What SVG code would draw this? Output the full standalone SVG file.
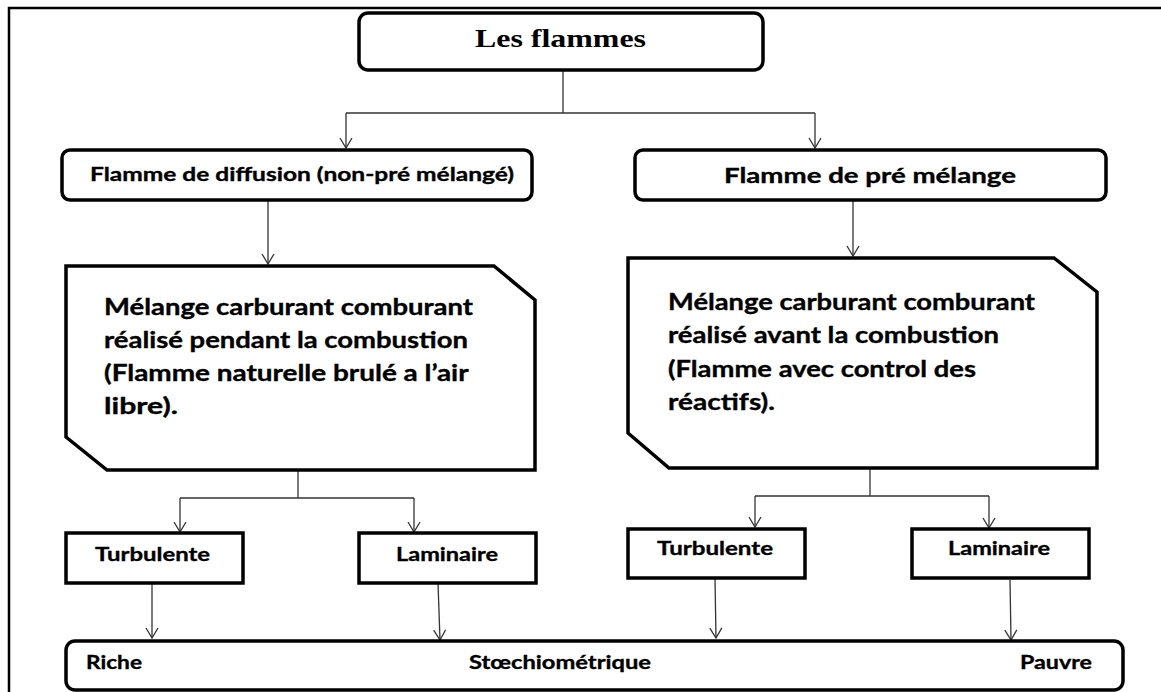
<svg xmlns="http://www.w3.org/2000/svg" width="1161" height="692" viewBox="0 0 1161 692">
<style>
.box{fill:#fff;stroke:#000;stroke-width:3.5;stroke-linejoin:miter}
.rbox{fill:#fff;stroke:#000;stroke-width:3.5}
.frame{fill:none;stroke:#000;stroke-width:2.5}
.con{fill:none;stroke:#333;stroke-width:1.3}
.t{font-family:Lato,"Open Sans","Liberation Sans",sans-serif;font-weight:bold;fill:#000;stroke:#000;stroke-width:0.35}
.title{font-family:"Liberation Serif","Times New Roman",serif;font-weight:bold;fill:#000}
</style>
<defs>
<marker id="arr" viewBox="-11 -7 12 14" refX="0" refY="0" markerWidth="12" markerHeight="14" markerUnits="userSpaceOnUse" orient="auto">
<path d="M-10,-6 L0,0 L-10,6" fill="none" stroke="#333" stroke-width="1.3"/>
</marker>
</defs>
<rect width="1161" height="692" fill="#fff"/>
<rect class="frame" x="9" y="8" width="1170" height="700"/>

<g id="connectors">
<polyline class="con" points="563,70 563,113"/>
<polyline class="con" points="346,113 815,113"/>
<line class="con" x1="346" y1="113" x2="346" y2="148" marker-end="url(#arr)"/>
<line class="con" x1="815" y1="113" x2="815" y2="148" marker-end="url(#arr)"/>
<line class="con" x1="268" y1="200" x2="268" y2="264" marker-end="url(#arr)"/>
<line class="con" x1="853" y1="200" x2="853" y2="256" marker-end="url(#arr)"/>
<polyline class="con" points="298,470 298,498"/>
<polyline class="con" points="180,498 414,498"/>
<line class="con" x1="180" y1="498" x2="180" y2="532" marker-end="url(#arr)"/>
<line class="con" x1="414" y1="498" x2="414" y2="532" marker-end="url(#arr)"/>
<polyline class="con" points="870,468 870,496"/>
<polyline class="con" points="755,496 989,496"/>
<line class="con" x1="755" y1="496" x2="755" y2="527" marker-end="url(#arr)"/>
<line class="con" x1="989" y1="496" x2="989" y2="528" marker-end="url(#arr)"/>
<line class="con" x1="152" y1="583" x2="152" y2="638" marker-end="url(#arr)"/>
<line class="con" x1="438" y1="583" x2="440" y2="640" marker-end="url(#arr)"/>
<line class="con" x1="715" y1="578" x2="716" y2="638" marker-end="url(#arr)"/>
<line class="con" x1="1010" y1="580" x2="1011" y2="640" marker-end="url(#arr)"/>
</g>

<g id="n-flammes">
<rect class="rbox" x="359" y="13" width="404" height="57" rx="9"/>
<text class="title" x="475" y="47" font-size="25" textLength="171" lengthAdjust="spacingAndGlyphs">Les flammes</text>
</g>

<g id="n-diffusion">
<rect class="rbox" x="62" y="150" width="470" height="50" rx="8"/>
<text class="t" x="90" y="181" font-size="19" textLength="424" lengthAdjust="spacingAndGlyphs">Flamme de diffusion (non-pré mélangé)</text>
</g>

<g id="n-premelange">
<rect class="rbox" x="635" y="150" width="471" height="50" rx="8"/>
<text class="t" x="724" y="183" font-size="21" textLength="292" lengthAdjust="spacingAndGlyphs">Flamme de pré mélange</text>
</g>

<g id="n-desc-diffusion">
<polygon class="box" points="66,266 494,266 535,300 535,470 107,470 66,437"/>
<text class="t" font-size="22">
<tspan x="104" y="315" textLength="369" lengthAdjust="spacingAndGlyphs">Mélange carburant comburant</tspan>
<tspan x="104" y="348" textLength="364" lengthAdjust="spacingAndGlyphs">réalisé pendant la combustion</tspan>
<tspan x="104" y="381" textLength="364" lengthAdjust="spacingAndGlyphs">(Flamme naturelle brulé a l’air</tspan>
<tspan x="104" y="414" textLength="74" lengthAdjust="spacingAndGlyphs">libre).</tspan>
</text>
</g>

<g id="n-desc-premelange">
<polygon class="box" points="628,258 1054,258 1097,292 1097,468 669,468 628,433"/>
<text class="t" font-size="22">
<tspan x="668" y="310" textLength="367" lengthAdjust="spacingAndGlyphs">Mélange carburant comburant</tspan>
<tspan x="668" y="343" textLength="331" lengthAdjust="spacingAndGlyphs">réalisé avant la combustion</tspan>
<tspan x="668" y="377" textLength="308" lengthAdjust="spacingAndGlyphs">(Flamme avec control des</tspan>
<tspan x="668" y="410" textLength="107" lengthAdjust="spacingAndGlyphs">réactifs).</tspan>
</text>
</g>

<g id="n-turb-1">
<rect class="box" x="66" y="533" width="177" height="50"/>
<text class="t" x="95" y="561" font-size="19" textLength="115" lengthAdjust="spacingAndGlyphs">Turbulente</text>
</g>
<g id="n-lam-1">
<rect class="box" x="359" y="533" width="177" height="50"/>
<text class="t" x="396" y="561" font-size="19" textLength="102" lengthAdjust="spacingAndGlyphs">Laminaire</text>
</g>
<g id="n-turb-2">
<rect class="box" x="628" y="529" width="177" height="49"/>
<text class="t" x="657" y="555" font-size="19" textLength="116" lengthAdjust="spacingAndGlyphs">Turbulente</text>
</g>
<g id="n-lam-2">
<rect class="box" x="912" y="529" width="177" height="49"/>
<text class="t" x="948" y="555" font-size="19" textLength="102" lengthAdjust="spacingAndGlyphs">Laminaire</text>
</g>

<g id="n-richesse">
<rect class="rbox" x="66" y="641" width="1057" height="49" rx="9"/>
<text class="t" x="86" y="669" font-size="19" textLength="56" lengthAdjust="spacingAndGlyphs">Riche</text>
<text class="t" x="469" y="669" font-size="19" textLength="182" lengthAdjust="spacingAndGlyphs">Stœchiométrique</text>
<text class="t" x="1020" y="669" font-size="19" textLength="72" lengthAdjust="spacingAndGlyphs">Pauvre</text>
</g>
</svg>
